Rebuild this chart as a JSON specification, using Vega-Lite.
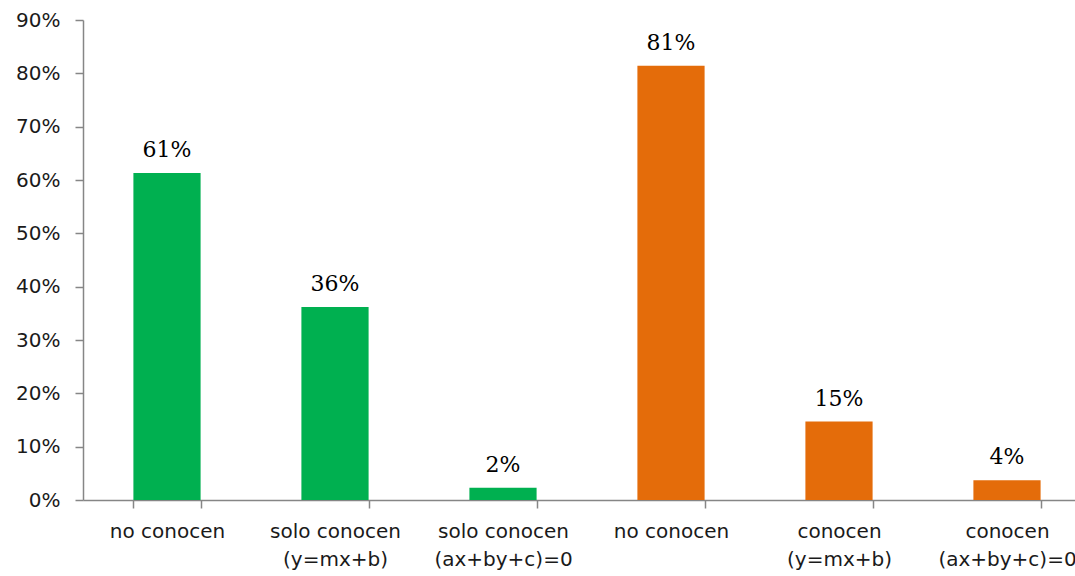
{
  "$schema": "https://vega.github.io/schema/vega-lite/v6.json",
  "autosize": {"type": "none"},
  "width": 1008,
  "height": 480,
  "padding": {"left": 83, "top": 20, "right": 0, "bottom": 76},
  "background": "white",
  "data": {
    "values": [
      {"cat": "no conocen", "value": 0.613, "label": "61%", "grp": "a"},
      {"cat": "solo conocen|(y=mx+b)", "value": 0.362, "label": "36%", "grp": "a"},
      {"cat": "solo conocen|(ax+by+c)=0", "value": 0.023, "label": "2%", "grp": "a"},
      {"cat": "no conocen ", "value": 0.814, "label": "81%", "grp": "b"},
      {"cat": "conocen|(y=mx+b)", "value": 0.147, "label": "15%", "grp": "b"},
      {"cat": "conocen|(ax+by+c)=0", "value": 0.037, "label": "4%", "grp": "b"}
    ]
  },
  "config": {"view": {"stroke": null}},
  "encoding": {
    "x": {
      "field": "cat", "type": "nominal", "sort": null,
      "scale": {"paddingInner": 0.6, "paddingOuter": 0.3},
      "axis": {
        "title": null, "labelAngle": 0, "tickBand": "extent",
        "labelExpr": "isString(datum.value) ? split(datum.value, '|') : ''",
        "labelFont": "DejaVu Sans", "labelFontSize": 20, "labelColor": "#1a1a1a",
        "labelLineHeight": 28, "labelPadding": 13, "labelBaseline": "top",
        "domainColor": "#868686", "tickColor": "#868686", "tickSize": 8,
        "domainWidth": 1.5, "tickWidth": 1.5
      }
    },
    "y": {
      "field": "value", "type": "quantitative",
      "scale": {"domain": [0, 0.9]},
      "axis": {
        "title": null, "format": ".0%", "values": [0, 0.1, 0.2, 0.3, 0.4, 0.5, 0.6, 0.7, 0.8, 0.9],
        "grid": false, "labelFont": "DejaVu Sans", "labelFontSize": 20, "labelColor": "#1a1a1a",
        "labelPadding": 15, "domainColor": "#868686", "tickColor": "#868686", "tickSize": 8,
        "domainWidth": 1.5, "tickWidth": 1.5
      }
    }
  },
  "layer": [
    {
      "mark": {"type": "bar"},
      "encoding": {
        "color": {
          "field": "grp", "type": "nominal", "legend": null,
          "scale": {"domain": ["a", "b"], "range": ["#00B050", "#E46C0A"]}
        }
      }
    },
    {
      "mark": {"type": "text", "baseline": "alphabetic", "dy": -16, "font": "DejaVu Serif", "fontSize": 22, "color": "#000000"},
      "encoding": {"text": {"field": "label"}}
    }
  ]
}
